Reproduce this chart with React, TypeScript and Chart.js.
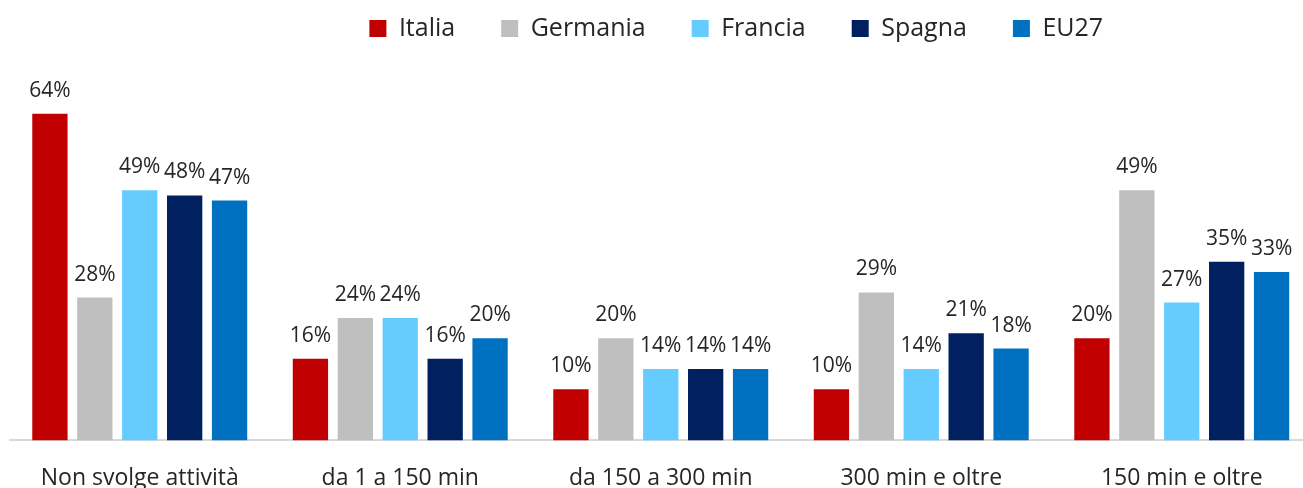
import React, { useEffect, useRef } from "react";
import { Chart, registerables } from "chart.js";

Chart.register(...registerables);

const categories = ["Non svolge attività", "da 1 a 150 min", "da 150 a 300 min", "300 min e oltre", "150 min e oltre"];
const seriesNames = ["Italia", "Germania", "Francia", "Spagna", "EU27"];
const italia = [64, 16, 10, 10, 20];
const germania = [28, 24, 20, 29, 49];
const francia = [49, 24, 14, 14, 27];
const spagna = [48, 16, 14, 21, 35];
const eu27 = [47, 20, 14, 18, 33];
const colors = ["#C00000", "#BFBFBF", "#66CCFF", "#002060", "#0070C0"];

const FONT = "'Open Sans', sans-serif";
const TEXT = "#262626";

const dataLabels = {
  id: "dataLabels",
  afterDatasetsDraw(chart: any) {
    const ctx = chart.ctx;
    ctx.save();
    ctx.font = `21px ${FONT}`;
    ctx.fillStyle = TEXT;
    ctx.textAlign = "center";
    ctx.textBaseline = "alphabetic";
    chart.data.datasets.forEach((ds: any, i: number) => {
      const meta = chart.getDatasetMeta(i);
      meta.data.forEach((bar: any, j: number) => {
        ctx.fillText(`${ds.data[j]}%`, bar.x, bar.y - 17);
      });
    });
    ctx.restore();
  },
};

export default function App() {
  const ref = useRef<HTMLCanvasElement | null>(null);
  useEffect(() => {
    document.body.style.margin = "0";
    document.body.style.overflow = "hidden";
    const values = [italia, germania, francia, spagna, eu27];
    const chart = new Chart(ref.current!, {
      type: "bar",
      data: {
        labels: categories,
        datasets: seriesNames.map((name, i) => ({
          label: name,
          data: values[i],
          backgroundColor: colors[i],
          borderWidth: 0,
          categoryPercentage: 0.862,
          barPercentage: 0.786,
        })),
      },
      options: {
        responsive: false,
        animation: false,
        layout: { padding: { left: 9.5, right: 0, top: 0, bottom: 0 } },
        plugins: {
          tooltip: { enabled: false },
          legend: {
            position: "top",
            labels: {
              boxWidth: 17,
              boxHeight: 17,
              padding: 46,
              color: TEXT,
              font: { family: FONT, size: 25 },
            },
          },
        },
        scales: {
          x: {
            grid: { display: false, drawTicks: false },
            border: { display: true, color: "#D9D9D9", width: 2 },
            ticks: { color: TEXT, font: { family: FONT, size: 23 }, padding: 24, maxRotation: 0, autoSkip: false },
          },
          y: {
            position: "right",
            min: 0,
            max: 76.3,
            grid: { display: false, drawTicks: false },
            border: { display: false },
            ticks: { display: false },
            afterFit: (s: any) => {
              s.width = 151;
            },
          },
        },
      },
      plugins: [dataLabels],
    });
    return () => chart.destroy();
  }, []);
  return (
    <div style={{ position: "fixed", left: 0, top: 0, width: 1303, height: 488, overflow: "hidden", background: "#fff" }}>
      <canvas ref={ref} width={1463} height={546} style={{ position: "absolute", left: 0, top: -30 }} />
    </div>
  );
}
